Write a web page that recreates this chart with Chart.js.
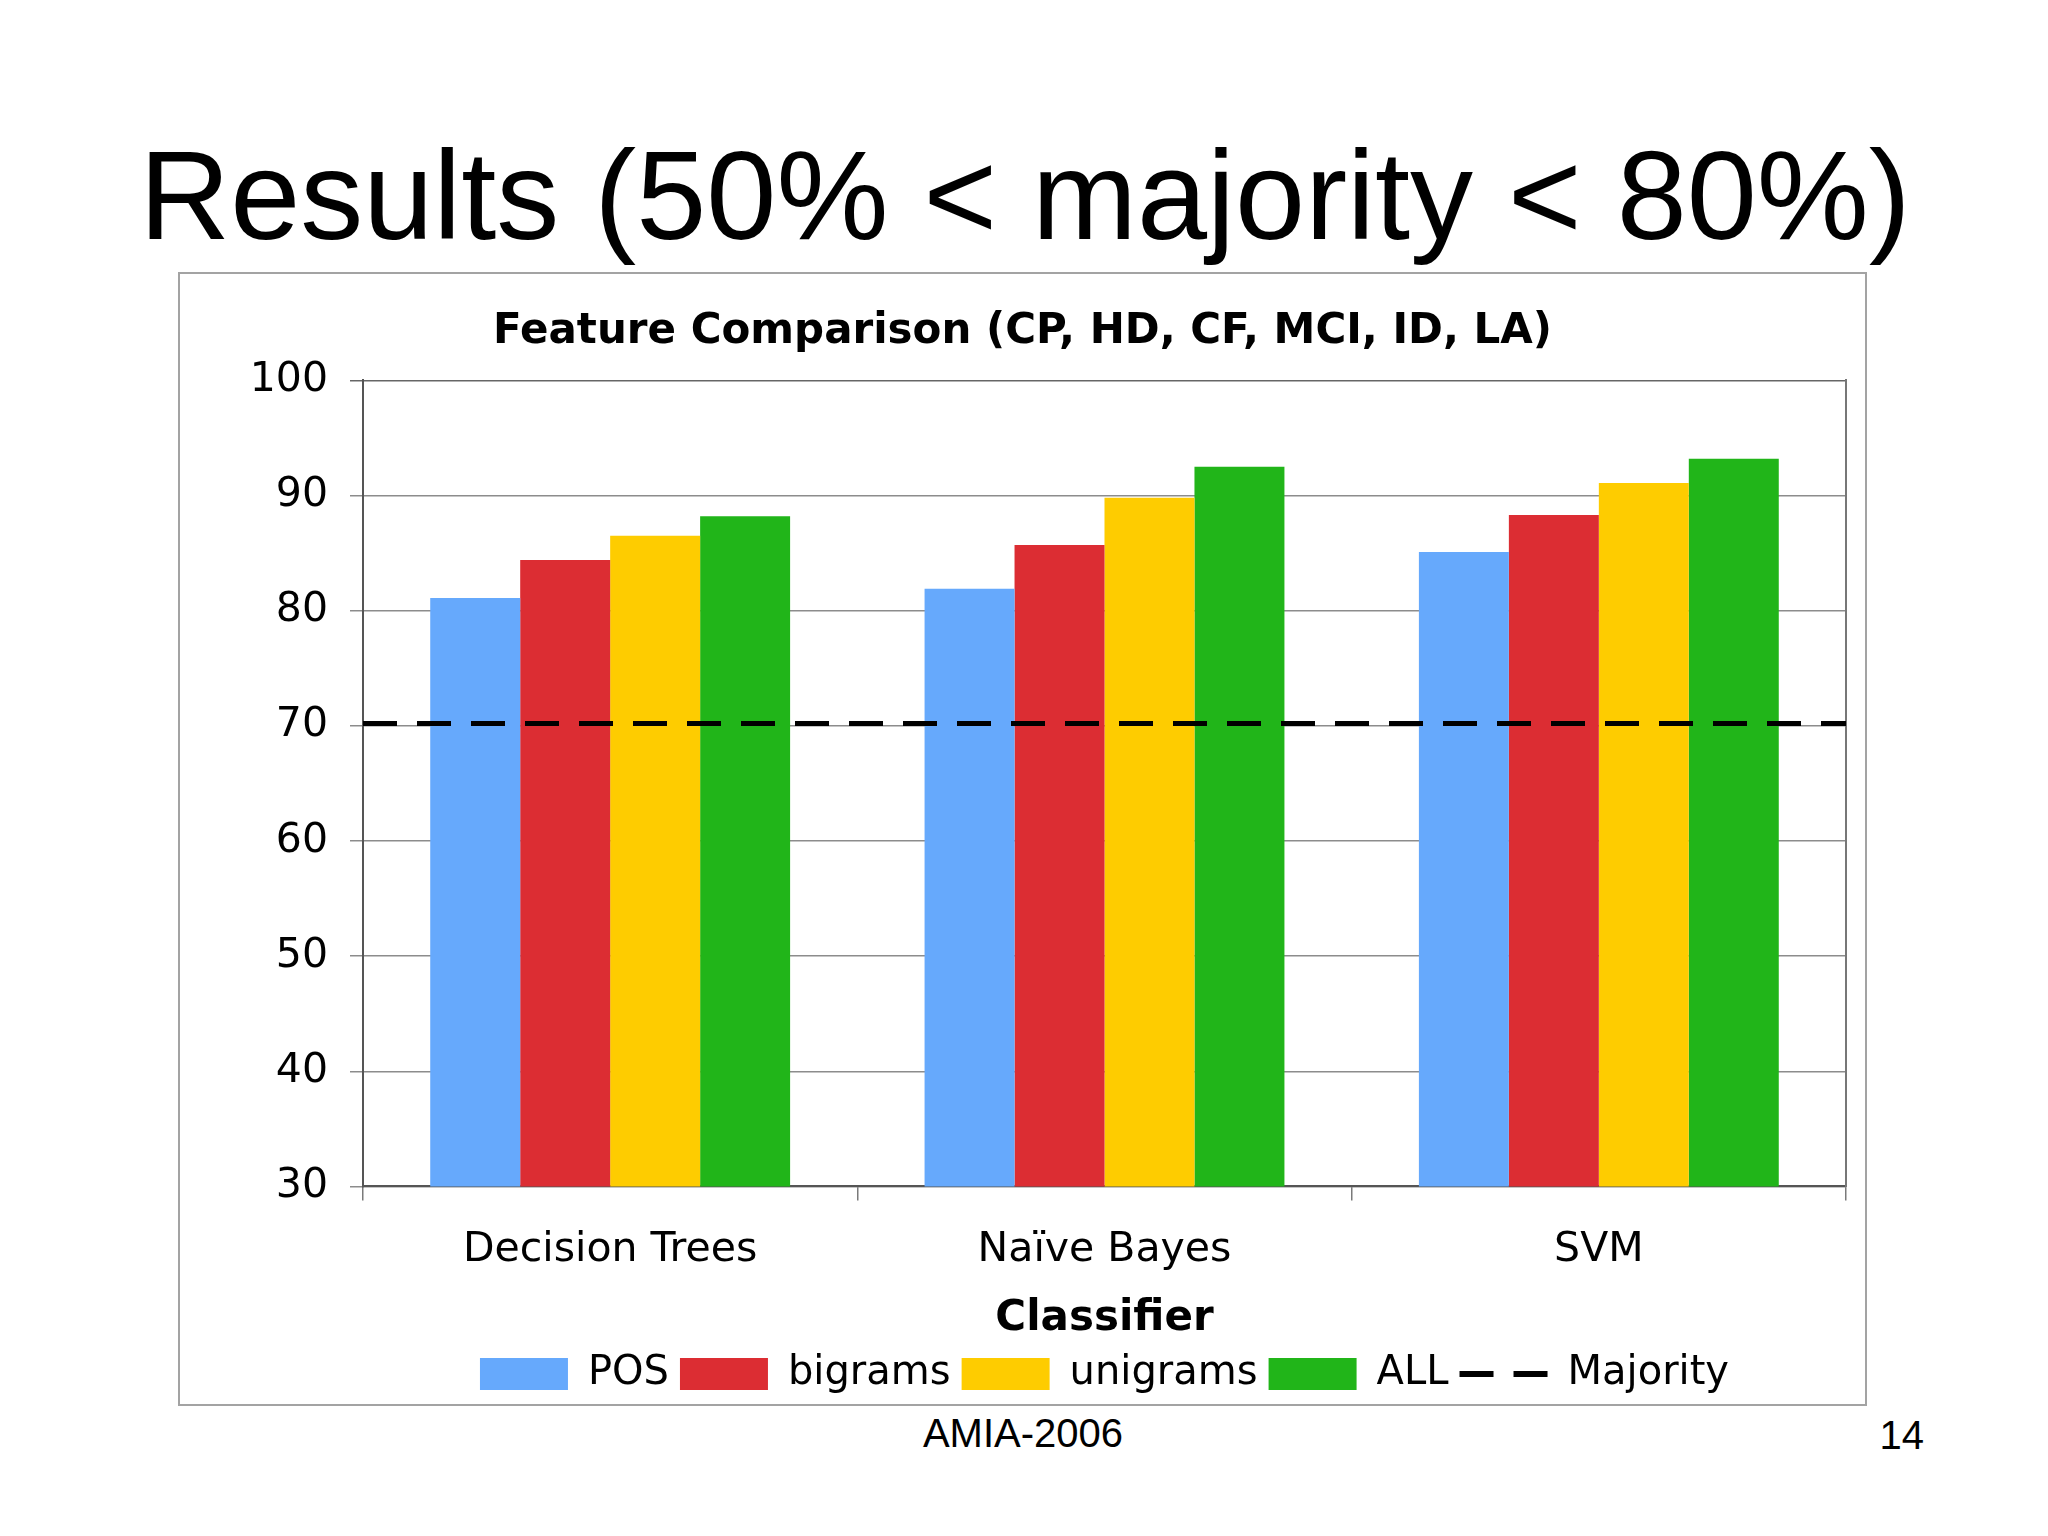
<!DOCTYPE html>
<html>
<head>
<meta charset="utf-8">
<script src="https://cdn.jsdelivr.net/npm/chart.js@4/dist/chart.umd.min.js"></script>
<style>
  html, body { margin: 0; padding: 0; background: #ffffff; }
  body { width: 2048px; height: 1536px; position: relative; overflow: hidden; }
  #slideTitle { position: absolute; left: 0; width: 2050px; top: 133px; text-align: center;
    font-family: "Liberation Sans", Arial, sans-serif; font-size: 126px; line-height: 126px; color: #000; white-space: nowrap; }
  #box { position: absolute; left: 178px; top: 272px; width: 1689px; height: 1134px; box-sizing: border-box;
    border: 2px solid #a3a3a3; background: #fff; }
  #footer { position: absolute; left: 0; width: 2046px; top: 1413px; text-align: center;
    font-family: "Liberation Sans", Arial, sans-serif; font-size: 40px; line-height: 40px; color: #000; }
  #pageNum { position: absolute; right: 124px; top: 1415px;
    font-family: "Liberation Sans", Arial, sans-serif; font-size: 40px; line-height: 40px; color: #000; }
</style>
</head>
<body>
<div id="slideTitle">Results (50% &lt; majority &lt; 80%)</div>
<div id="box"><canvas id="chart" width="1685" height="1130"></canvas></div>
<div id="footer">AMIA-2006</div>
<div id="pageNum">14</div>
<script>
const chartTitle = 'Feature Comparison (CP, HD, CF, MCI, ID, LA)';
const xAxisTitle = 'Classifier';
const categories = ['Decision Trees', 'Naïve Bayes', 'SVM'];
const seriesNames = ['POS', 'bigrams', 'unigrams', 'ALL'];
const posValues = [81.1, 81.9, 85.1];
const bigramValues = [84.4, 85.7, 88.3];
const unigramValues = [86.5, 89.8, 91.1];
const allValues = [88.2, 92.5, 93.2];
const majorityLabel = 'Majority';
const majorityValue = 70.2;
const yMin = 30, yMax = 100, yStep = 10;

const seriesColors = ['#66a9fc', '#dc2d33', '#fecc00', '#21b519'];
const seriesValues = [posValues, bigramValues, unigramValues, allValues];
const majorityDash = [34, 20];

const FONT = 'DejaVu Sans';

const datasets = seriesNames.map((name, i) => ({
  type: 'bar',
  label: name,
  data: seriesValues[i],
  backgroundColor: seriesColors[i],
  borderWidth: 0,
  categoryPercentage: 0.728,
  barPercentage: 1.0
}));

// Majority reference line: spans the full plot width at the y-scale position of majorityValue
const majorityLinePlugin = {
  id: 'majorityLine',
  afterDatasetsDraw(chart) {
    const { ctx, chartArea, scales } = chart;
    const py = scales.y.getPixelForValue(majorityValue);
    ctx.save();
    ctx.strokeStyle = '#000';
    ctx.lineWidth = 5;
    ctx.setLineDash(majorityDash);
    ctx.beginPath();
    ctx.moveTo(chartArea.left, py);
    ctx.lineTo(chartArea.right, py);
    ctx.stroke();
    ctx.restore();
  }
};

new Chart(document.getElementById('chart'), {
  type: 'bar',
  data: { labels: categories, datasets },
  plugins: [majorityLinePlugin],
  options: {
    responsive: false,
    maintainAspectRatio: false,
    animation: false,
    devicePixelRatio: 1,
    layout: { padding: { left: 0, right: 0, top: 0, bottom: 0 } },
    plugins: {
      tooltip: { enabled: false },
      title: {
        display: true,
        text: chartTitle,
        color: '#000',
        font: { family: FONT, size: 42, weight: 'bold', lineHeight: 1.2 },
        padding: { top: 33, bottom: 23 }
      },
      legend: {
        position: 'bottom',
        fullSize: false,
        onClick: () => {},
        labels: {
          color: '#000',
          font: { family: FONT, size: 40 },
          usePointStyle: true,
          pointStyleWidth: 88,
          boxHeight: 32,
          padding: 11,
          generateLabels(chart) {
            const items = Chart.defaults.plugins.legend.labels.generateLabels(chart);
            items.forEach(it => {
              const ds = chart.data.datasets[it.datasetIndex];
              it.pointStyle = 'rect';
              it.fillStyle = ds.backgroundColor;
              it.lineWidth = 0;
            });
            items.push({
              text: majorityLabel,
              pointStyle: 'line',
              strokeStyle: '#000',
              fillStyle: 'rgba(0,0,0,0)',
              lineWidth: 6,
              lineDash: majorityDash,
              hidden: false,
              fontColor: '#000',
              datasetIndex: seriesNames.length
            });
            return items;
          }
        }
      }
    },
    scales: {
      x: {
        type: 'category',
        offset: true,
        grid: { offset: true, drawOnChartArea: false, drawTicks: true, tickLength: 14, color: '#7a7a7a', lineWidth: 1.5 },
        border: { display: true, color: '#555', width: 2 },
        ticks: { color: '#000', font: { family: FONT, size: 41, lineHeight: 1.2 }, padding: 25, maxRotation: 0 },
        title: { display: true, text: xAxisTitle, color: '#000', font: { family: FONT, size: 42, weight: 'bold', lineHeight: 1.2 }, padding: { top: -6, bottom: -1 } }
      },
      y: {
        min: yMin, max: yMax,
        ticks: { stepSize: yStep, color: '#000', font: { family: FONT, size: 41, lineHeight: 1.2 }, padding: 22 },
        grid: { color: (c) => (c.tick && c.tick.value === yMax) ? '#666' : '#8c8c8c', lineWidth: 1.5, tickLength: 13 },
        border: { display: true, color: '#555', width: 2 },
        afterFit(scale) { scale.width = 183; }
      },
      y2: {
        position: 'right',
        grid: { display: false },
        ticks: { display: false },
        border: { display: true, color: '#777', width: 2 },
        afterFit(scale) { scale.width = 19; }
      }
    }
  }
});
</script>
</body>
</html>
